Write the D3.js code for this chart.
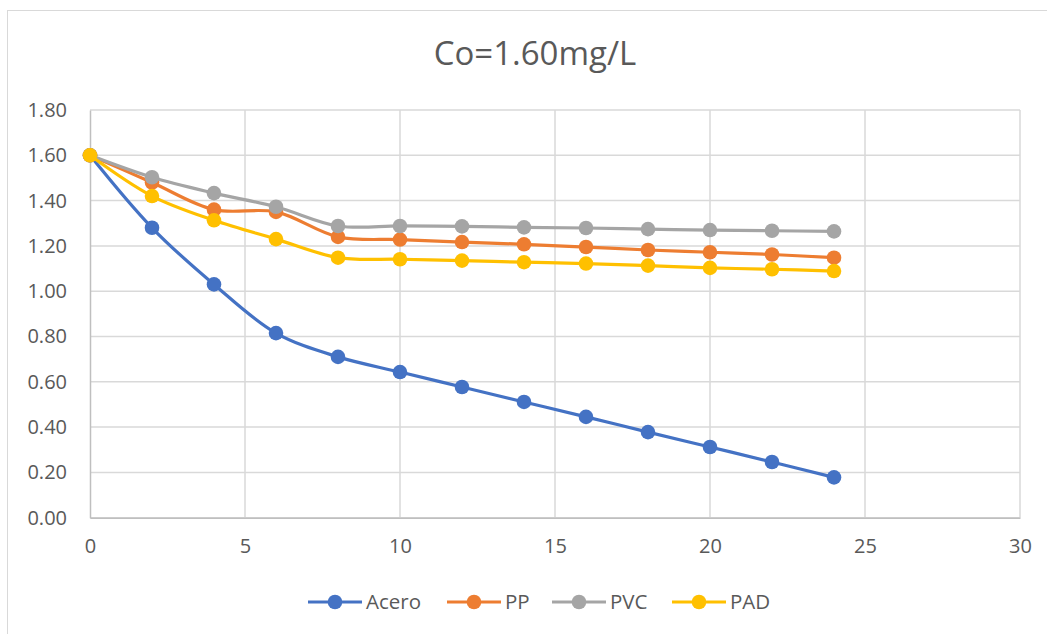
<!DOCTYPE html>
<html>
<head>
<meta charset="utf-8">
<script src="https://cdn.jsdelivr.net/npm/d3@7"></script>
<style>
  html, body { margin: 0; padding: 0; background: #fff; }
  svg { display: block; }
  text { font-family: "Open Sans", "Noto Sans", sans-serif; fill: #595959; }
</style>
</head>
<body>
<svg id="chart" width="1047" height="634"></svg>
<script>
// Time (h) at each sample
const hours = [0, 2, 4, 6, 8, 10, 12, 14, 16, 18, 20, 22, 24];

// Concentration (mg/L) for each pipe material
const acero = [1.60, 1.28, 1.03, 0.815, 0.71, 0.643, 0.577, 0.511, 0.445, 0.378, 0.312, 0.246, 0.178];
const pp    = [1.60, 1.48, 1.36, 1.35, 1.24, 1.228, 1.217, 1.207, 1.195, 1.182, 1.172, 1.162, 1.148];
const pvc   = [1.60, 1.503, 1.433, 1.373, 1.288, 1.288, 1.286, 1.282, 1.279, 1.274, 1.27, 1.267, 1.264];
const pad   = [1.60, 1.42, 1.313, 1.23, 1.148, 1.141, 1.135, 1.128, 1.122, 1.113, 1.103, 1.097, 1.089];

const seriesNames  = ["Acero", "PP", "PVC", "PAD"];
const seriesValues = [acero, pp, pvc, pad];
const seriesColors = ["#4472C4", "#ED7D31", "#A5A5A5", "#FFC000"];

const xTicks = [0, 5, 10, 15, 20, 25, 30];
const yTicks = [0, 0.2, 0.4, 0.6, 0.8, 1.0, 1.2, 1.4, 1.6, 1.8];
const title = "Co=1.60mg/L";

const svg = d3.select("#chart");

// outer chart frame
svg.append("rect")
  .attr("x", 7.5).attr("y", 10.5)
  .attr("width", 1060).attr("height", 640)
  .attr("fill", "#fff")
  .attr("stroke", "#d9d9d9").attr("stroke-width", 1);

const plot = { left: 90, right: 1020, top: 110, bottom: 517.7 };

const x = d3.scaleLinear().domain([0, 30]).range([plot.left, plot.right]);
const y = d3.scaleLinear().domain([0, 1.8]).range([plot.bottom, plot.top]);

// horizontal gridlines
svg.append("g")
  .selectAll("line")
  .data(yTicks)
  .join("line")
  .attr("x1", plot.left).attr("x2", plot.right)
  .attr("y1", d => y(d)).attr("y2", d => y(d))
  .attr("stroke", "#d9d9d9").attr("stroke-width", 1.5);

// vertical gridlines
svg.append("g")
  .selectAll("line")
  .data(xTicks.slice(1))
  .join("line")
  .attr("x1", d => x(d)).attr("x2", d => x(d))
  .attr("y1", plot.top).attr("y2", plot.bottom)
  .attr("stroke", "#d9d9d9").attr("stroke-width", 1.5);

// y axis
const yAxis = svg.append("g")
  .attr("transform", `translate(${plot.left},0)`)
  .call(d3.axisLeft(y).tickValues(yTicks).tickFormat(d3.format(".2f")).tickSize(0).tickPadding(23));
yAxis.select(".domain").attr("stroke", "#bfbfbf").attr("stroke-width", 1.5);
yAxis.selectAll("text")
  .style("font-family", '"Open Sans", sans-serif')
  .style("font-size", "20px")
  .attr("fill", "#595959");

// x axis
const xAxis = svg.append("g")
  .attr("transform", `translate(0,${plot.bottom})`)
  .call(d3.axisBottom(x).tickValues(xTicks).tickFormat(d3.format("d")).tickSize(0).tickPadding(21));
xAxis.select(".domain").attr("stroke", "#bfbfbf").attr("stroke-width", 1.5);
xAxis.selectAll("text")
  .style("font-family", '"Open Sans", sans-serif')
  .style("font-size", "20px")
  .attr("fill", "#595959");

// title
svg.append("text")
  .attr("x", 535).attr("y", 65)
  .attr("text-anchor", "middle")
  .style("font-size", "33px")
  .text(title);

// series lines and markers
const line = d3.line()
  .x((d, i) => x(hours[i]))
  .y(d => y(d))
  .curve(d3.curveCatmullRom.alpha(0.5));

seriesValues.forEach((vals, s) => {
  const g = svg.append("g");
  g.append("path")
    .datum(vals)
    .attr("d", line)
    .attr("fill", "none")
    .attr("stroke", seriesColors[s])
    .attr("stroke-width", 3.2)
    .attr("stroke-linejoin", "round");
  g.selectAll("circle")
    .data(vals)
    .join("circle")
    .attr("cx", (d, i) => x(hours[i]))
    .attr("cy", d => y(d))
    .attr("r", 7.3)
    .attr("fill", seriesColors[s]);
});

// legend
const legendX = [308, 447, 552, 672];
const legendY = 602;
const legend = svg.append("g");
seriesNames.forEach((name, s) => {
  const lx = legendX[s];
  legend.append("line")
    .attr("x1", lx).attr("x2", lx + 54)
    .attr("y1", legendY).attr("y2", legendY)
    .attr("stroke", seriesColors[s]).attr("stroke-width", 3.2);
  legend.append("circle")
    .attr("cx", lx + 27).attr("cy", legendY).attr("r", 7.3)
    .attr("fill", seriesColors[s]);
  legend.append("text")
    .attr("x", lx + 58).attr("y", legendY)
    .attr("dy", "0.35em")
    .style("font-size", "20.5px")
    .text(name);
});
</script>
</body>
</html>
